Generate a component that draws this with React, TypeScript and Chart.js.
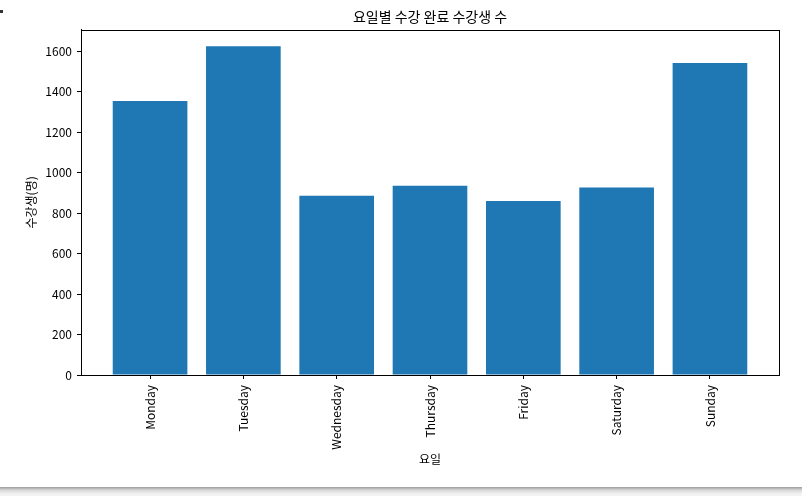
import React, { useEffect, useRef } from "react";
import { Chart, registerables } from "chart.js";

Chart.register(...registerables);

const days = ["Monday", "Tuesday", "Wednesday", "Thursday", "Friday", "Saturday", "Sunday"];
const students = [1354, 1624, 886, 935, 859, 926, 1541];
const yTicks = [0, 200, 400, 600, 800, 1000, 1200, 1400, 1600];

const titleText = "요일별 수강 완료 수강생 수";
const xTitle = "요일";
const yTitle = "수강생(명)";

const FONT = "'Noto Sans CJK KR', 'Noto Sans', sans-serif";

const framePlugin = {
  id: "frame",
  afterDatasetsDraw(chart: any) {
    const { ctx, chartArea } = chart;
    ctx.save();
    ctx.strokeStyle = "#000";
    ctx.lineWidth = 1;
    ctx.strokeRect(
      Math.round(chartArea.left) + 0.5,
      Math.round(chartArea.top) + 0.5,
      Math.round(chartArea.right - chartArea.left),
      Math.round(chartArea.bottom - chartArea.top)
    );
    ctx.restore();
  },
};

export default function App() {
  const ref = useRef<HTMLCanvasElement | null>(null);

  useEffect(() => {
    if (!ref.current) return;
    const maxVal = Math.max(...students) * 1.05;
    const chart = new Chart(ref.current, {
      type: "bar",
      data: {
        datasets: [
          {
            data: students.map((v, i) => ({ x: i, y: v })),
            backgroundColor: "#1f77b4",
            borderWidth: 0,
            barPercentage: 0.8,
            categoryPercentage: 1.0,
          },
        ],
      },
      options: {
        animation: false,
        responsive: false,
        devicePixelRatio: 1,
        layout: { padding: { left: 24, right: 23, top: 0, bottom: 20 } },
        plugins: {
          legend: { display: false },
          tooltip: { enabled: false },
          title: {
            display: true,
            text: titleText,
            fullSize: false,
            color: "#000",
            font: { family: FONT, size: 14, weight: "normal" },
            padding: { top: 8, bottom: 5 },
          },
        },
        scales: {
          x: {
            type: "linear",
            min: -0.74,
            max: 6.74,
            offset: false,
            afterBuildTicks: (scale: any) => {
              scale.ticks = days.map((_, i) => ({ value: i }));
            },
            afterFit: (scale: any) => {
              scale.height = 92;
            },
            ticks: {
              autoSkip: false,
              minRotation: 90,
              maxRotation: 90,
              padding: 6,
              color: "#000",
              font: { family: FONT, size: 12 },
              callback: (v: any) => days[v as number] ?? "",
            },
            grid: {
              display: true,
              drawOnChartArea: false,
              drawTicks: true,
              tickLength: 4,
              color: "#000",
              offset: false,
            },
            border: { display: true, color: "#000" },
            title: {
              display: true,
              text: xTitle,
              color: "#000",
              font: { family: FONT, size: 12 },
              padding: 0,
            },
          },
          y: {
            min: 0,
            max: maxVal,
            afterBuildTicks: (scale: any) => {
              scale.ticks = yTicks.map((v) => ({ value: v }));
            },
            afterFit: (scale: any) => {
              scale.width = 57;
            },
            ticks: {
              padding: 5,
              color: "#000",
              font: { family: FONT, size: 12 },
              callback: (v: any) => String(v),
            },
            grid: {
              display: true,
              drawOnChartArea: false,
              drawTicks: true,
              tickLength: 4,
              color: "#000",
            },
            border: { display: true, color: "#000" },
            title: {
              display: true,
              text: yTitle,
              color: "#000",
              font: { family: FONT, size: 12 },
              padding: 0,
            },
          },
        },
      },
      plugins: [framePlugin],
    } as any);
    return () => chart.destroy();
  }, []);

  return (
    <div style={{ position: "absolute", left: 0, top: 0, width: 802, height: 496, background: "#fff" }}>
      <canvas ref={ref} width={802} height={487} style={{ display: "block", width: 802, height: 487 }} />
      <div
        style={{
          position: "absolute",
          left: 0,
          top: 487,
          width: 802,
          height: 9,
          background: "linear-gradient(#9c9c9c, #d8d8d8 35%, #eeeeee 70%, #f6f6f6)",
        }}
      />
      <div style={{ position: "absolute", left: 0, top: 10, width: 3, height: 3, background: "#333" }} />
    </div>
  );
}
